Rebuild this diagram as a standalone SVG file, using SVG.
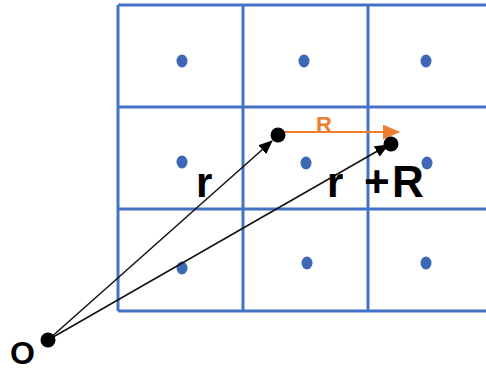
<svg xmlns="http://www.w3.org/2000/svg" width="486" height="370" viewBox="0 0 486 370">
<defs>
<style>
.grid{stroke:#4472C4;stroke-width:3;fill:none}
.dot{fill:#3D68B5}
.pt{fill:#000}
.vec{stroke:#111;stroke-width:1.5;fill:none}
.lbl{font-family:"Liberation Sans",Arial,sans-serif;font-weight:bold;fill:#000}
</style>
<marker id="ah" markerWidth="14" markerHeight="12" refX="13" refY="6" orient="auto" markerUnits="userSpaceOnUse">
<path d="M0,0 L14,6 L0,12 Z" fill="#000"/>
</marker>
<marker id="aho" markerWidth="17" markerHeight="15" refX="16" refY="7.5" orient="auto" markerUnits="userSpaceOnUse">
<path d="M0,0 L17,7.5 L0,15 Z" fill="#ED7D31"/>
</marker>
</defs>
<rect width="486" height="370" fill="#fff"/>
<g id="grid">
<line class="grid" x1="118" y1="5" x2="486" y2="5"/>
<line class="grid" x1="118" y1="107" x2="486" y2="107"/>
<line class="grid" x1="118" y1="209" x2="486" y2="209"/>
<line class="grid" x1="118" y1="311" x2="486" y2="311"/>
<line class="grid" x1="118" y1="5" x2="118" y2="311"/>
<line class="grid" x1="243" y1="5" x2="243" y2="311"/>
<line class="grid" x1="368" y1="5" x2="368" y2="311"/>
</g>
<g id="lattice">
<ellipse class="dot" cx="182" cy="61" rx="5.5" ry="6.5"/>
<ellipse class="dot" cx="304" cy="61" rx="5.5" ry="6.5"/>
<ellipse class="dot" cx="426" cy="61" rx="5.5" ry="6.5"/>
<ellipse class="dot" cx="182" cy="162" rx="5.5" ry="6.5"/>
<ellipse class="dot" cx="306" cy="163" rx="5.5" ry="6.5"/>
<ellipse class="dot" cx="427" cy="163" rx="5.5" ry="6.5"/>
<ellipse class="dot" cx="182" cy="268" rx="5.5" ry="6.5"/>
<ellipse class="dot" cx="307" cy="263" rx="5.5" ry="6.5"/>
<ellipse class="dot" cx="426" cy="263" rx="5.5" ry="6.5"/>
</g>
<g id="connectors">
<line class="vec" x1="48" y1="340" x2="272" y2="141" marker-end="url(#ah)"/>
<line class="vec" x1="48" y1="340" x2="388" y2="145" marker-end="url(#ah)"/>
<line x1="280" y1="132" x2="399" y2="132" stroke="#ED7D31" stroke-width="2" marker-end="url(#aho)"/>
</g>
<g id="points">
<circle class="pt" cx="48" cy="340" r="7.5"/>
<circle class="pt" cx="278" cy="135" r="7.5"/>
<circle class="pt" cx="391" cy="144" r="7.5"/>
</g>
<g id="labels">
<text class="lbl" x="196" y="197" font-size="42">r</text>
<text class="lbl" x="327" y="197" font-size="42">r</text>
<text class="lbl" x="364" y="197" font-size="44">+</text>
<text class="lbl" x="392" y="197" font-size="44">R</text>
<text x="316" y="132" font-family="Liberation Sans,Arial,sans-serif" font-weight="bold" font-size="22" fill="#ED7D31">R</text>
<text class="lbl" x="10" y="364" font-size="32">O</text>
</g>
</svg>
